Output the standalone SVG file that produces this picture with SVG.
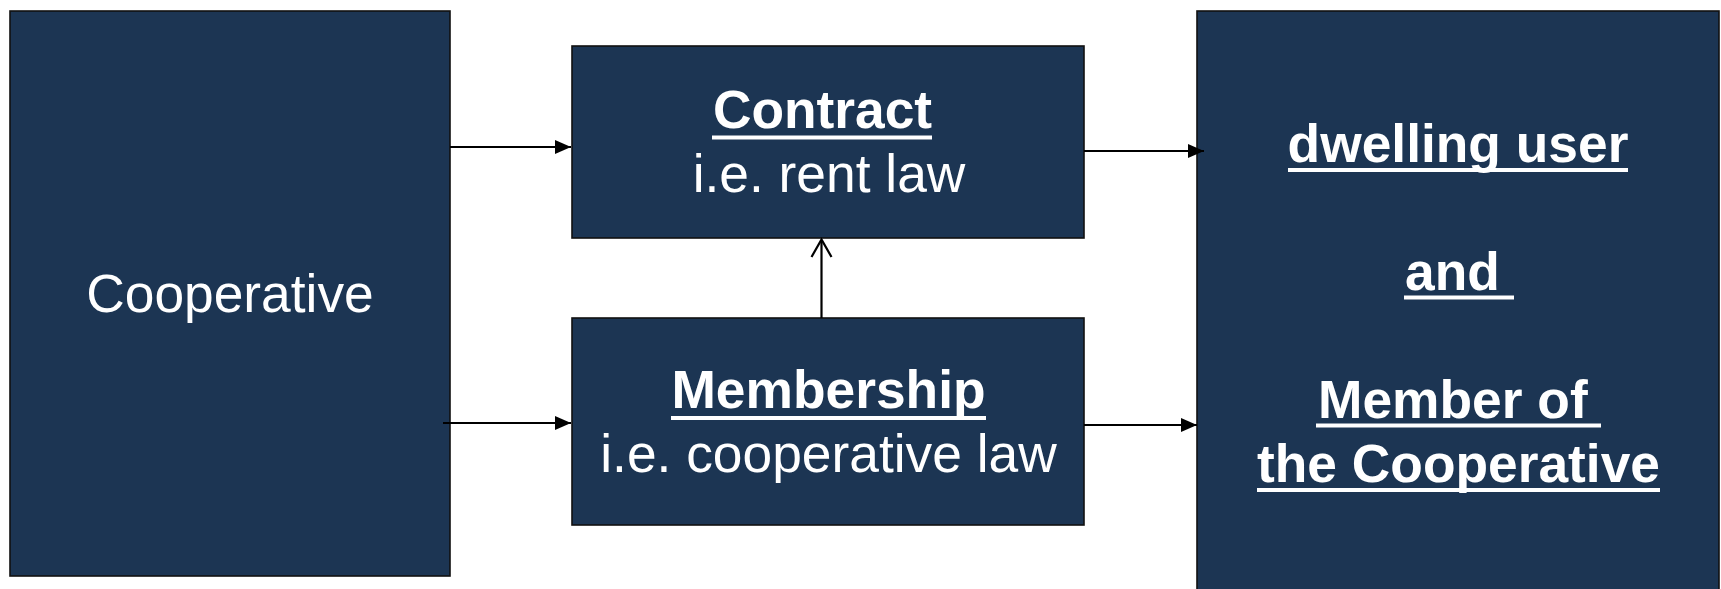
<svg xmlns="http://www.w3.org/2000/svg" width="1721" height="589" viewBox="0 0 1721 589">
  <style>
    .box { fill: #1c3553; stroke: #111; stroke-width: 1.6; }
    .t { font-family: "Liberation Sans", Arial, sans-serif; font-size: 53.33px; fill: #ffffff; text-anchor: middle; }
    .b { font-weight: bold; }
    .s { text-anchor: start; }
    .ul { stroke: #ffffff; stroke-width: 4; }
    .conn { stroke: #000; stroke-width: 2.2; fill: none; }
  </style>
  <defs>
    <marker id="arrow" markerUnits="userSpaceOnUse" markerWidth="17" markerHeight="15" refX="16" refY="7" orient="auto">
      <path d="M0,0 L16,7 L0,14 z" fill="#000"/>
    </marker>
  </defs>
  <rect width="1721" height="589" fill="#ffffff"/>

  <g id="cooperative">
    <rect class="box" x="10" y="11" width="440" height="565"/>
    <text class="t" x="230" y="312">Cooperative</text>
  </g>

  <g id="contract">
    <rect class="box" x="572" y="46" width="512" height="192"/>
    <text class="t b" x="822.5" y="128">Contract</text>
    <line class="ul" x1="712" y1="137.5" x2="932" y2="137.5"/>
    <text class="t" x="829" y="192">i.e. rent law</text>
  </g>

  <g id="membership">
    <rect class="box" x="572" y="318" width="512" height="207"/>
    <text class="t b" x="828.5" y="408">Membership</text>
    <line class="ul" x1="671" y1="418" x2="986" y2="418"/>
    <text class="t" x="828.5" y="472">i.e. cooperative law</text>
  </g>

  <g id="dwelling-user-member">
    <rect class="box" x="1197" y="11" width="522" height="600"/>
    <text class="t b" x="1458" y="162">dwelling user</text>
    <line class="ul" x1="1288" y1="170" x2="1628" y2="170"/>
    <text class="t b s" x="1405" y="290">and</text>
    <line class="ul" x1="1404" y1="297.5" x2="1514" y2="297.5"/>
    <text class="t b s" x="1318" y="418">Member of</text>
    <line class="ul" x1="1316" y1="425.5" x2="1601" y2="425.5"/>
    <text class="t b" x="1458.5" y="482">the Cooperative</text>
    <line class="ul" x1="1257" y1="490" x2="1660" y2="490"/>
  </g>

  <g id="connectors">
    <line class="conn" x1="450" y1="147" x2="571" y2="147" marker-end="url(#arrow)"/>
    <line class="conn" x1="443" y1="423" x2="571" y2="423" marker-end="url(#arrow)"/>
    <line class="conn" x1="1084" y1="151" x2="1204" y2="151" marker-end="url(#arrow)"/>
    <line class="conn" x1="1084" y1="425" x2="1197" y2="425" marker-end="url(#arrow)"/>
    <line class="conn" x1="821.5" y1="318" x2="821.5" y2="240"/>
    <polyline class="conn" points="811.5,257 821.5,239.5 831.5,257"/>
  </g>
</svg>
